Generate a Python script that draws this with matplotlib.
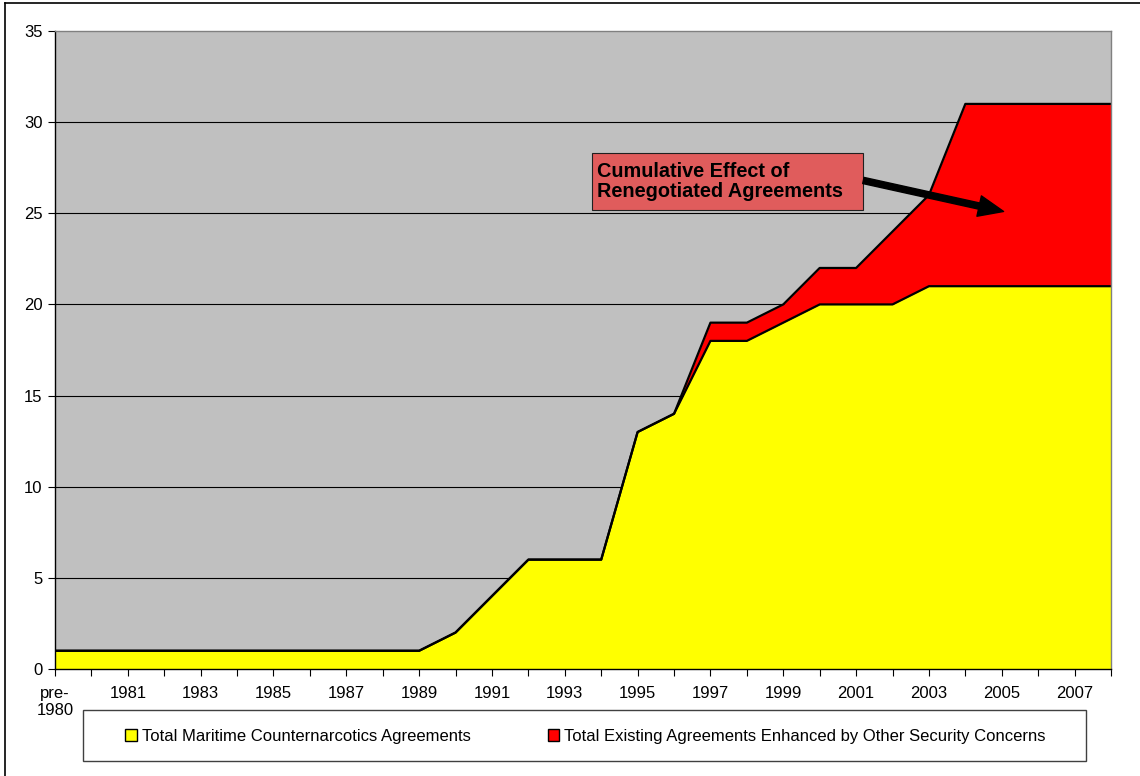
import matplotlib.pyplot as plt
import numpy as np
from matplotlib.patches import Patch, Rectangle
from matplotlib.lines import Line2D

plt.rcParams["font.family"] = ["Liberation Sans", "DejaVu Sans"]

years = ["pre-\n1980"] + [str(y) for y in range(1980, 2009)]
maritime = [1, 1, 1, 1, 1, 1, 1, 1, 1, 1, 1, 2, 4, 6, 6, 6, 13, 14, 18, 18,
            19, 20, 20, 20, 21, 21, 21, 21, 21, 21]
enhanced = [0, 0, 0, 0, 0, 0, 0, 0, 0, 0, 0, 0, 0, 0, 0, 0, 0, 0, 1, 1,
            1, 2, 2, 4, 5, 10, 10, 10, 10, 10]
yticks = [0, 5, 10, 15, 20, 25, 30, 35]

label_a = "Total Maritime Counternarcotics Agreements"
label_b = "Total Existing Agreements Enhanced by Other Security Concerns"

W, H = 1140, 776
fig = plt.figure(figsize=(W / 100, H / 100), dpi=100)
ax = fig.add_axes([55 / W, 1 - 669 / H, (1111 - 55) / W, (669 - 31) / H])

x = np.arange(len(years))
y1 = np.array(maritime)
y2 = y1 + np.array(enhanced)

ax.set_facecolor("#C0C0C0")
for t in yticks[1:-1]:
    ax.axhline(t, color="black", lw=0.8, zorder=1)

ax.fill_between(x, 0, y1, color="#FFFF00", lw=0, zorder=2)
ax.fill_between(x, y1, y2, color="#FF0000", lw=0, zorder=2)
ax.plot(x, y2, color="black", lw=1.6, zorder=3)
ax.plot(x, y1, color="black", lw=1.6, zorder=3)

ax.set_xlim(0, len(years) - 1)
ax.set_ylim(0, 35)
ax.set_yticks(yticks)
ax.set_xticks(x)
ax.set_xticklabels([lab if i % 2 == 0 else "" for i, lab in enumerate(years)])
ax.tick_params(axis="both", direction="out", length=5, width=0.8,
               labelsize=12, color="black")
ax.tick_params(axis="x", pad=7)
ax.tick_params(axis="y", pad=4)
ax.spines["left"].set_color("black")
ax.spines["bottom"].set_color("black")
ax.spines["top"].set_color("#808080")
ax.spines["right"].set_color("#808080")
for s in ax.spines.values():
    s.set_linewidth(1.0)
    s.set_zorder(4)

# annotation box + arrow
ax.add_patch(Rectangle((0.5085, 0.7194), 0.2565, 0.0894, transform=ax.transAxes,
                       facecolor="#E05C5C", edgecolor="#202020", lw=0.8, zorder=5))
ax.text(0.5133, 0.764, "Cumulative Effect of\nRenegotiated Agreements",
        transform=ax.transAxes, ha="left", va="center", fontsize=14.3,
        fontweight="bold", linespacing=1.1, zorder=6)
ax.annotate("", xy=(26.05, 25.1), xytext=(22.2, 26.8),
            arrowprops=dict(facecolor="black", edgecolor="black", width=4.5,
                            headwidth=15, headlength=18, shrink=0), zorder=6)

# legend
fig.patches.append(Rectangle((83 / W, 1 - 761 / H), (1086 - 83) / W, 51 / H,
                             transform=fig.transFigure, facecolor="white",
                             edgecolor="#404040", lw=1.0))
handles = [Patch(facecolor="#FFFF00", edgecolor="black", lw=1.0),
           Patch(facecolor="#FF0000", edgecolor="black", lw=1.0)]
fig.legend(handles, [label_a, label_b], loc="center", ncol=2,
           bbox_to_anchor=(585.5 / W, 1 - 736 / H), frameon=False,
           fontsize=12, handlelength=0.7, handleheight=0.7,
           handletextpad=0.3, columnspacing=4.6)

# outer border (top/left visible)
fig.add_artist(Line2D([5 / W, 5 / W], [0, 1 - 3 / H], transform=fig.transFigure,
                      color="black", lw=1.2))
fig.add_artist(Line2D([5 / W, 1], [1 - 3 / H, 1 - 3 / H], transform=fig.transFigure,
                      color="black", lw=1.2))

fig.savefig("out.png", dpi=100)
